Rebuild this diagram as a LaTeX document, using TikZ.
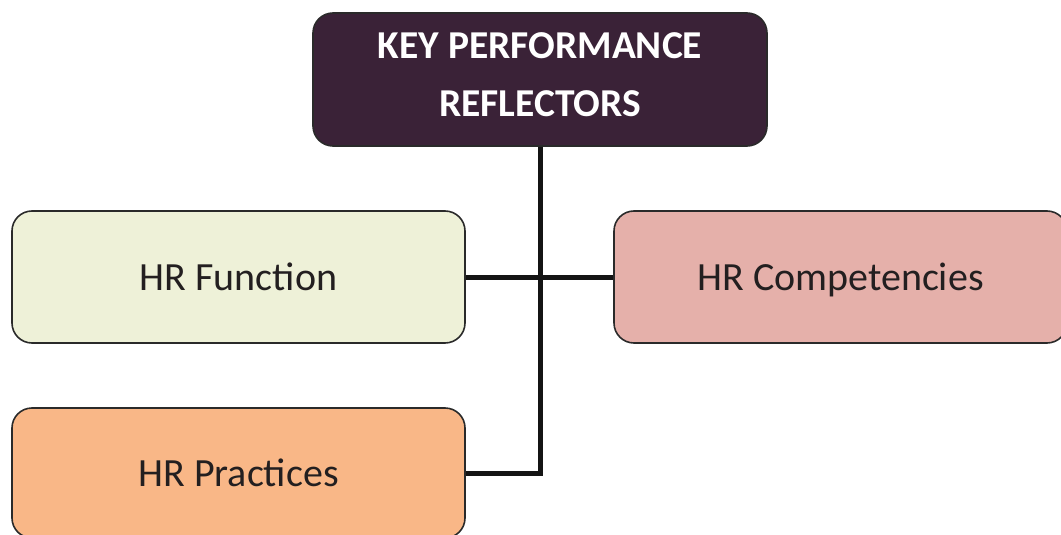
\documentclass[tikz,border=0pt]{standalone}
\usepackage{fontspec}
\setmainfont{Carlito}
\definecolor{topfill}{HTML}{3A2237}
\definecolor{funcfill}{HTML}{EEF1D8}
\definecolor{compfill}{HTML}{E5B0AA}
\definecolor{pracfill}{HTML}{F9B787}
\definecolor{edge}{HTML}{2A2A2A}
\definecolor{txt}{HTML}{231F20}
\begin{document}
\begin{tikzpicture}[x=1pt,y=-1pt,
  box/.style={draw=edge, line width=1.6pt, rounded corners=20pt, inner sep=0pt,
    minimum width=453pt, align=center},
  smallbox/.style={box, minimum height=132pt, text=txt, text depth=0pt,
    font=\fontsize{40}{48}\selectfont},
  toptext/.style={text=white, inner sep=0pt, anchor=base,
    font=\fontsize{39.5}{48}\selectfont\bfseries},
  conn/.style={line width=5pt, draw=black!92}]
\useasboundingbox (0,0) rectangle (1061,535);
\node[box, fill=topfill, minimum width=454pt, minimum height=133pt] (top) at (540,79.5) {};
\node[toptext] (t1) at (540,58.5) {KEY PERFORMANCE};
\node[toptext] (t2) at (540,117) {REFLECTORS};
\node[smallbox, fill=funcfill] (func) at (238.5,277) {HR Function};
\node[smallbox, fill=compfill] (comp) at (840.5,277) {HR Competencies};
\node[smallbox, fill=pracfill, minimum height=130pt] (prac) at (238.5,473) {HR Practices};
\draw[conn] (top.south) |- (prac.east);
\draw[conn] (func.east) -- (comp.west);
\end{tikzpicture}
\end{document}
